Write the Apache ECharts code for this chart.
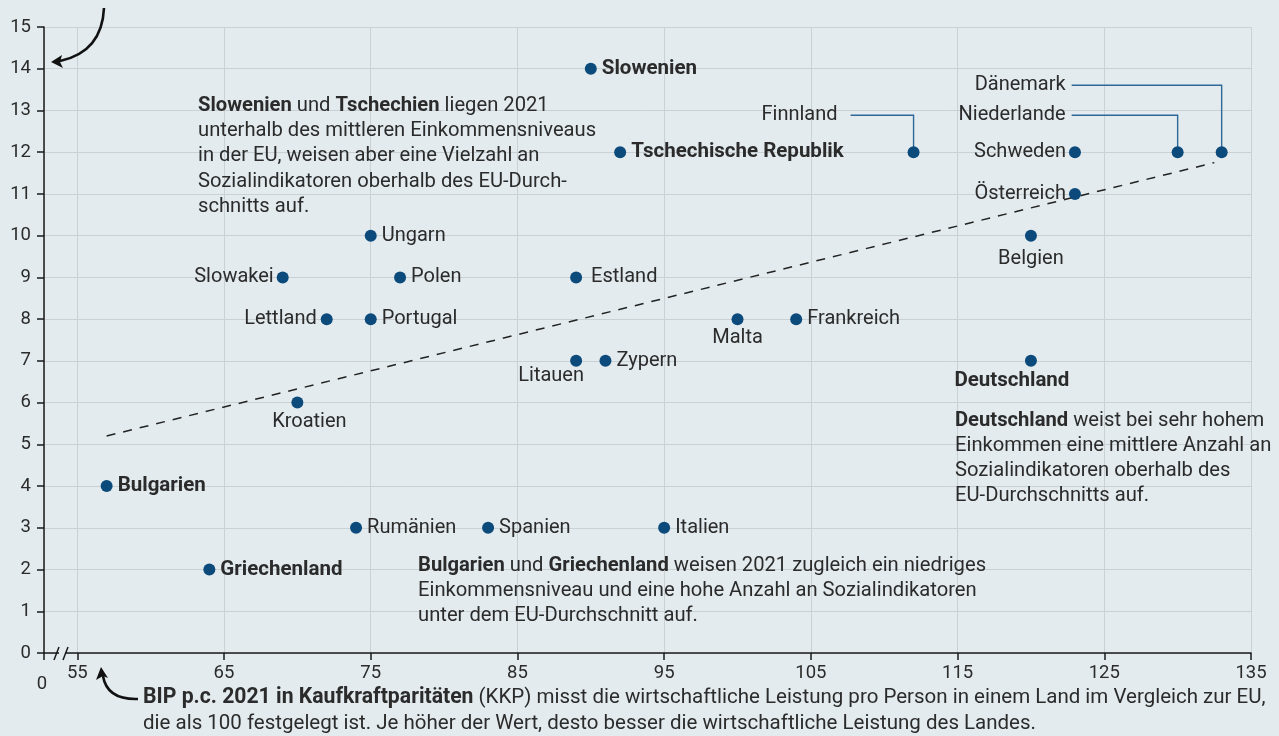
<!DOCTYPE html>
<html><head><meta charset="utf-8">
<script src="https://cdn.jsdelivr.net/npm/echarts@6/dist/echarts.min.js"></script>
<style>html,body{margin:0;padding:0;background:#e3ebee}#c{width:1279px;height:736px}</style>
</head><body><div id="c"></div>
<script>
// ---- data ----
const countries = ['Slowenien','Tschechische Republik','Finnland','Schweden','Niederlande','Dänemark','Österreich','Belgien','Ungarn','Slowakei','Polen','Estland','Lettland','Portugal','Malta','Frankreich','Litauen','Zypern','Deutschland','Kroatien','Bulgarien','Rumänien','Spanien','Italien','Griechenland'];
const bipKKP =            [90, 92, 112, 123, 130, 133, 123, 120, 75, 69, 77, 89, 72, 75, 100, 104, 89, 91, 120, 70, 57, 74, 83, 95, 64];
const sozialIndikatoren = [14, 12,  12,  12,  12,  12,  11,  10, 10,  9,  9,  9,  8,  8,   8,   8,  7,  7,   7,  6,  4,  3,  3,  3,  2];
const trendX = [57, 132.5];
const trendY = [5.2, 11.75];
const xTickValues = [55, 65, 75, 85, 95, 105, 115, 125, 135];
const xBreakLabel = '0';
const boldCountries = ['Slowenien','Tschechische Republik','Deutschland','Bulgarien','Griechenland'];

// ---- styles ----
const FONT = 'Roboto';
const FS_TICK = 18.5;
const FS_LABEL = 20;
const FS_BOLD = 20.5;
const FS_NOTE = 20.2;
const FS_FOOT = 20.5;
const FS_FOOT_B = 21.2;
const TXT = '#2b2b2b';
const DOT = '#0b4a7b';
const GRID = '#c9d1d5';
const BG = '#e3ebee';
const X_MIN = 52.73;

const labelCfg = {
  'Slowakei': {position:'left', distance:3},
  'Lettland': {position:'left', distance:4},
  'Schweden': {position:'left', distance:3},
  'Österreich': {position:'left', distance:3},
  'Finnland': {position:'left', distance:5, offset:[-65,-37]},
  'Niederlande': {position:'left', distance:5, offset:[-101,-37]},
  'Dänemark': {position:'left', distance:5, offset:[-145,-67]},
  'Belgien': {position:'bottom', distance:7},
  'Malta': {position:'bottom', distance:3},
  'Litauen': {position:'bottom', distance:0, offset:[-25,-1]},
  'Deutschland': {position:'bottom', distance:4, offset:[-19,0]},
  'Kroatien': {position:'bottom', distance:3, offset:[12,0]},
  'Estland': {position:'right', distance:9}
};
const leaderCfg = {
  'Finnland': {dx:-63, dy:-37},
  'Niederlande': {dx:-106, dy:-37},
  'Dänemark': {dx:-150, dy:-67}
};

const scatterData = countries.map((c, i) => {
  const cfg = labelCfg[c] || {position:'right', distance:5};
  const bold = boldCountries.includes(c);
  return {
    name: c,
    value: [bipKKP[i], sozialIndikatoren[i]],
    label: {
      position: cfg.position, distance: cfg.distance, offset: cfg.offset || [0,0],
      fontWeight: bold ? 'bold' : 'normal', fontSize: bold ? FS_BOLD : FS_LABEL
    }
  };
});

const chart = echarts.init(document.getElementById('c'), null, {renderer:'canvas'});
const tickText = {fontFamily: FONT, fontSize: FS_TICK, color: TXT};

const option = {
  backgroundColor: BG,
  animation: false,
  textStyle: {fontFamily: FONT},
  grid: {left: 44, right: 28, top: 27, bottom: 83},
  xAxis: {
    type: 'value', min: X_MIN, max: 135,
    axisLine: {show: true, onZero: false, lineStyle: {color: '#1a1a1a', width: 1.5}},
    axisTick: {show: true, length: 7, customValues: [X_MIN].concat(xTickValues), lineStyle: {color: '#1a1a1a', width: 1.5}},
    axisLabel: Object.assign({customValues: xTickValues, margin: 11}, tickText),
    splitLine: {show: true, lineStyle: {color: GRID, width: 1}}
  },
  yAxis: {
    type: 'value', min: 0, max: 15, interval: 1,
    axisLine: {show: true, onZero: false, lineStyle: {color: '#1a1a1a', width: 1.5}},
    axisTick: {show: true, length: 7, lineStyle: {color: '#1a1a1a', width: 1.5}},
    axisLabel: Object.assign({margin: 13}, tickText),
    splitLine: {show: true, lineStyle: {color: GRID, width: 1}}
  },
  series: [
    {
      type: 'line', silent: true, symbol: 'none', z: 1,
      data: trendX.map((x, i) => [x, trendY[i]]),
      lineStyle: {color: '#222', width: 1.5, type: [9, 8]}
    },
    {
      type: 'scatter', symbolSize: 12, z: 3,
      itemStyle: {color: DOT, opacity: 1},
      data: scatterData,
      label: {show: true, formatter: '{b}', fontFamily: FONT, fontSize: FS_LABEL, color: TXT}
    }
  ]
};
chart.setOption(option);

// ---- annotations ----
function note(left, top, text, fs, lh, fsb) {
  return {type: 'text', left: left, top: top, z: 10,
    style: {text: text, rich: {b: {fontWeight: 'bold', fontFamily: FONT, fontSize: fsb || fs, fill: TXT, lineHeight: lh}},
      fontFamily: FONT, fontSize: fs, fill: TXT, lineHeight: lh}};
}
const graphics = [
  note(198, 93, '{b|Slowenien} und {b|Tschechien} liegen 2021\nunterhalb des mittleren Einkommensniveaus\nin der EU, weisen aber eine Vielzahl an\nSozialindikatoren oberhalb des EU-Durch-\nschnitts auf.', FS_NOTE, 25.3),
  note(955, 408, '{b|Deutschland} weist bei sehr hohem\nEinkommen eine mittlere Anzahl an\nSozialindikatoren oberhalb des\nEU-Durchschnitts auf.', FS_NOTE, 25.2),
  note(418, 553, '{b|Bulgarien} und {b|Griechenland} weisen 2021 zugleich ein niedriges\nEinkommensniveau und eine hohe Anzahl an Sozialindikatoren\nunter dem EU-Durchschnitt auf.', FS_NOTE, 25),
  note(143, 685, '{b|BIP p.c. 2021 in Kaufkraftparitäten} (KKP) misst die wirtschaftliche Leistung pro Person in einem Land im Vergleich zur EU,\ndie als 100 festgelegt ist. Je höher der Wert, desto besser die wirtschaftliche Leistung des Landes.', FS_FOOT, 26, FS_FOOT_B),
  // x-axis "0" label at the break
  {type: 'text', x: 42, y: 684, z: 10, style: {text: xBreakLabel, fontFamily: FONT, fontSize: FS_TICK, fill: TXT, align: 'center', verticalAlign: 'middle'}},
  // axis break
  {type: 'rect', z: 10, shape: {x: 59, y: 650, width: 6, height: 6}, style: {fill: BG}},
  {type: 'line', z: 11, shape: {x1: 54, y1: 660, x2: 59, y2: 647}, style: {stroke: '#1a1a1a', lineWidth: 1.5}},
  {type: 'line', z: 11, shape: {x1: 63, y1: 660, x2: 68, y2: 647}, style: {stroke: '#1a1a1a', lineWidth: 1.5}},
  // top arrow
  {type: 'bezierCurve', z: 10, shape: {x1: 104, y1: 8, cpx1: 102, cpy1: 52, x2: 60, y2: 61}, style: {stroke: '#111', lineWidth: 2.6, fill: null}},
  {type: 'polygon', z: 10, shape: {points: [[51, 62], [62, 55], [60, 62], [63, 68]]}, style: {fill: '#111'}},
  // bottom arrow
  {type: 'bezierCurve', z: 10, shape: {x1: 138, y1: 699, cpx1: 107, cpy1: 700, x2: 103, y2: 676}, style: {stroke: '#111', lineWidth: 2.6, fill: null}},
  {type: 'polygon', z: 10, shape: {points: [[101, 667], [108, 678], [103, 676], [96, 680]]}, style: {fill: '#111'}}
];
countries.forEach((c, i) => {
  const lc = leaderCfg[c];
  if (!lc) return;
  const p = chart.convertToPixel({seriesIndex: 1}, [bipKKP[i], sozialIndikatoren[i]]);
  graphics.push({type: 'polyline', z: 2, shape: {points: [[p[0] + lc.dx, p[1] + lc.dy], [p[0], p[1] + lc.dy], [p[0], p[1]]]},
    style: {stroke: '#2d6898', lineWidth: 1.4, fill: null}});
});
chart.setOption({graphic: graphics});
</script>
</body></html>
